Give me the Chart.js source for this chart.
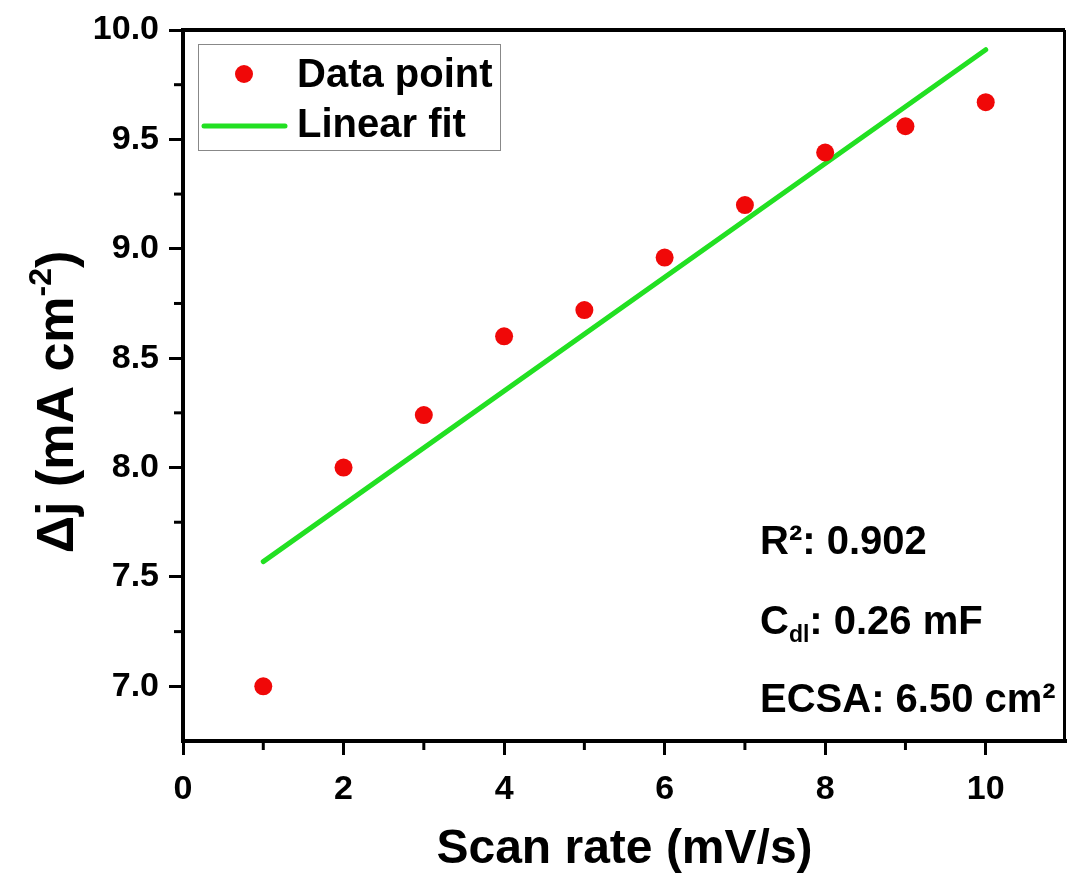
<!DOCTYPE html>
<html>
<head>
<meta charset="utf-8">
<script src="https://cdn.jsdelivr.net/npm/chart.js@4.4.1/dist/chart.umd.min.js"></script>
<style>
  html, body { margin: 0; padding: 0; background: #fff; }
  #wrap { width: 1067px; height: 877px; }
</style>
</head>
<body>
<div id="wrap"><canvas id="c" width="1067" height="877"></canvas></div>
<script>
// ---- data ----
const scanRates = [1, 2, 3, 4, 5, 6, 7, 8, 9, 10];
const deltaJ = [7.00, 8.00, 8.24, 8.60, 8.72, 8.96, 9.20, 9.44, 9.56, 9.67];
const fitX = [1, 10];
const fitY = [7.57, 9.91];
const xTicks = [0, 2, 4, 6, 8, 10];
const xMinorTicks = [1, 3, 5, 7, 9];
const yTicks = [7.0, 7.5, 8.0, 8.5, 9.0, 9.5, 10.0];
const yMinorTicks = [7.25, 7.75, 8.25, 8.75, 9.25, 9.75];
const legendLabels = ['Data point', 'Linear fit'];
const xTitle = 'Scan rate (mV/s)';
const yTitleMain = 'Δj (mA cm';
const yTitleSup = '-2';
const yTitleEnd = ')';
const annR2 = ['R²: 0.902'];
const annCdl = ['C', 'dl', ': 0.26 mF'];
const annEcsa = ['ECSA: 6.50 cm²'];

const FONT = '"Liberation Sans", Arial, sans-serif';
const RED = 'rgb(240,8,8)';
const GREEN = 'rgb(34,224,34)';

const extras = {
  id: 'extras',
  afterDraw(chart) {
    const ctx = chart.ctx;
    const a = chart.chartArea;
    const xs = chart.scales.x, ys = chart.scales.y;
    ctx.save();
    // top & right frame
    ctx.strokeStyle = '#000';
    ctx.lineWidth = 4;
    ctx.beginPath();
    ctx.moveTo(a.left - 2, a.top);
    ctx.lineTo(a.right - 1, a.top);
    ctx.stroke();
    ctx.lineWidth = 3;
    ctx.beginPath();
    ctx.moveTo(a.right - 1.5, a.top);
    ctx.lineTo(a.right - 1.5, a.bottom);
    ctx.stroke();
    // minor ticks
    ctx.lineWidth = 3;
    yMinorTicks.forEach(v => {
      const y = ys.getPixelForValue(v);
      ctx.beginPath(); ctx.moveTo(a.left - 9, y); ctx.lineTo(a.left, y); ctx.stroke();
    });
    xMinorTicks.forEach(v => {
      const x = xs.getPixelForValue(v);
      ctx.beginPath(); ctx.moveTo(x, a.bottom); ctx.lineTo(x, a.bottom + 9); ctx.stroke();
    });
    // legend box
    ctx.lineWidth = 1;
    ctx.strokeStyle = '#888';
    ctx.strokeRect(198.5, 44.5, 302, 106);
    ctx.fillStyle = RED;
    ctx.beginPath(); ctx.arc(244, 74, 9, 0, Math.PI * 2); ctx.fill();
    ctx.strokeStyle = GREEN;
    ctx.lineWidth = 5;
    ctx.lineCap = 'round';
    ctx.beginPath(); ctx.moveTo(204, 126); ctx.lineTo(285, 126); ctx.stroke();
    ctx.fillStyle = '#000';
    ctx.font = 'bold 40px ' + FONT;
    ctx.textBaseline = 'alphabetic';
    ctx.textAlign = 'left';
    ctx.fillText(legendLabels[0], 297, 87);
    ctx.fillText(legendLabels[1], 297, 137);
    // annotations
    const AX = 760;
    ctx.font = 'bold 40px ' + FONT;
    ctx.fillText(annR2[0], AX, 554);
    ctx.fillText(annCdl[0], AX, 634);
    let w = ctx.measureText(annCdl[0]).width;
    ctx.font = 'bold 23px ' + FONT;
    ctx.fillText(annCdl[1], AX + w, 642);
    const w2 = ctx.measureText(annCdl[1]).width;
    ctx.font = 'bold 40px ' + FONT;
    ctx.fillText(annCdl[2], AX + w + w2, 634);
    ctx.fillText(annEcsa[0], AX, 712);
    // y title (rotated)
    ctx.save();
    ctx.translate(73, 402);
    ctx.rotate(-Math.PI / 2);
    ctx.font = 'bold 52px ' + FONT;
    const m1 = ctx.measureText(yTitleMain).width;
    ctx.font = 'bold 32px ' + FONT;
    const m2 = ctx.measureText(yTitleSup).width;
    ctx.font = 'bold 52px ' + FONT;
    const m3 = ctx.measureText(yTitleEnd).width;
    let x0 = -(m1 + m2 + m3) / 2;
    ctx.fillText(yTitleMain, x0, 0);
    ctx.font = 'bold 32px ' + FONT;
    ctx.fillText(yTitleSup, x0 + m1, -22);
    ctx.font = 'bold 52px ' + FONT;
    ctx.fillText(yTitleEnd, x0 + m1 + m2, 0);
    ctx.restore();
    ctx.restore();
  }
};

new Chart(document.getElementById('c'), {
  type: 'scatter',
  data: {
    datasets: [
      {
        label: legendLabels[1],
        data: fitX.map((x, i) => ({ x, y: fitY[i] })),
        showLine: true,
        borderColor: GREEN,
        borderWidth: 5,
        borderCapStyle: 'round',
        pointRadius: 0,
        fill: false,
        order: 2
      },
      {
        label: legendLabels[0],
        data: scanRates.map((x, i) => ({ x, y: deltaJ[i] })),
        backgroundColor: RED,
        borderColor: RED,
        borderWidth: 0,
        pointRadius: 9,
        showLine: false,
        order: 1
      }
    ]
  },
  options: {
    responsive: false,
    animation: false,
    layout: { autoPadding: false, padding: { top: 30, right: 1, left: 0, bottom: 0 } },
    plugins: { legend: { display: false }, tooltip: { enabled: false } },
    scales: {
      x: {
        type: 'linear', min: 0, max: 11,
        afterFit(s) { s.height = 136; s.paddingRight = 0; s.paddingLeft = 0; },
        afterBuildTicks(s) { s.ticks = xTicks.map(v => ({ value: v })); },
        border: { display: true, color: '#000', width: 4 },
        grid: { drawOnChartArea: false, drawTicks: true, tickLength: 14, tickWidth: 3, tickColor: '#000' },
        ticks: { color: '#000', font: { family: FONT, size: 34, weight: 'bold' }, padding: 14, maxRotation: 0 },
        title: { display: true, text: xTitle, color: '#000', font: { family: FONT, size: 48, weight: 'bold', lineHeight: 1 }, padding: { top: 24, bottom: 3 } }
      },
      y: {
        type: 'linear', min: 6.75, max: 10,
        afterFit(s) { s.width = 183; s.paddingTop = 0; s.paddingBottom = 0; },
        afterBuildTicks(s) { s.ticks = yTicks.map(v => ({ value: v })); },
        border: { display: true, color: '#000', width: 4 },
        grid: { drawOnChartArea: false, drawTicks: true, tickLength: 14, tickWidth: 3, tickColor: '#000' },
        ticks: { color: '#000', font: { family: FONT, size: 34, weight: 'bold' }, padding: 10, callback: v => Number(v).toFixed(1) }
      }
    }
  },
  plugins: [extras]
});
</script>
</body>
</html>
